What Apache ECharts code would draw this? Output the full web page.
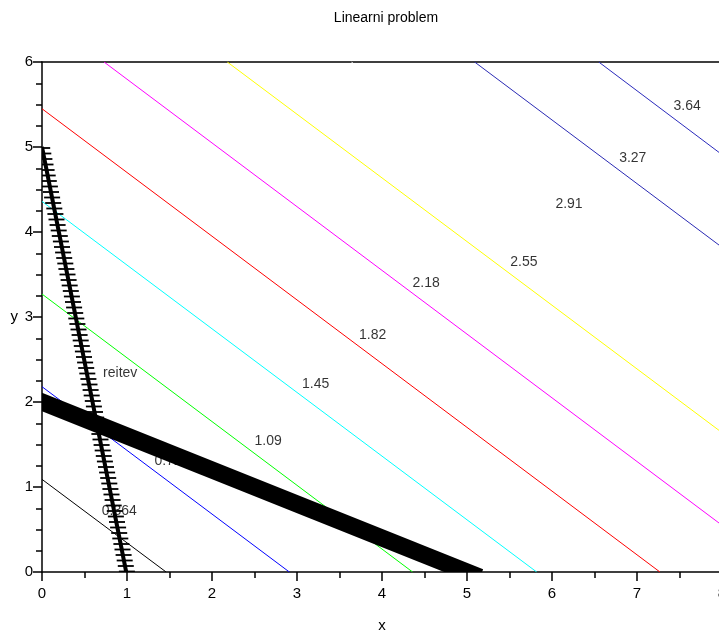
<!DOCTYPE html>
<html>
<head>
<meta charset="utf-8">
<script src="https://cdn.jsdelivr.net/npm/echarts@6/dist/echarts.min.js"></script>
<style>
html,body{margin:0;padding:0;background:#fff;}
#main{width:719px;height:631px;}
</style>
</head>
<body>
<div id="main"></div>
<script>
// contour levels of the objective, with colours and end points
var levels = ['0.364', '0.728', '1.09', '1.45', '1.82', '2.18', '2.55', '2.91', '3.27', '3.64'];
var levelColors = ['#000000', '#0000ff', '#00ff00', '#00ffff', '#ff0000', '#ff00ff', '#ffff00', '#ffffff', '#2a2ab4', '#2a2abc'];
var contourStart = [[0, 1.09], [0, 2.18], [0, 3.27], [0, 4.36], [0, 5.45], [0.73, 6], [2.18, 6], [3.64, 6], [5.09, 6], [6.55, 6]];
var contourEnd = [[1.46, 0], [2.91, 0], [4.36, 0], [5.82, 0], [7.27, 0], [8, 0.55], [8, 1.64], [8, 2.73], [8, 3.82], [8, 4.91]];
var labelX = [0.91, 1.53, 2.66, 3.22, 3.89, 4.52, 5.67, 6.20, 6.95, 7.59];
var labelY = [0.72, 1.31, 1.54, 2.21, 2.79, 3.40, 3.65, 4.33, 4.87, 5.48];

// constraints
var omejitev1 = [0, 2, 5, 0];
var omejitev2 = [0, 5, 1, 0];
var resitev = [0.92, 2.34, 'reitev'];

var xTicks = [0, 8, 1];
var yTicks = [0, 6, 1];

var font = 'Liberation Sans, Arial, sans-serif';

var series = [];
for (var i = 0; i < levels.length; i++) {
	series.push({
		type: 'line',
		data: [contourStart[i], contourEnd[i]],
		showSymbol: false,
		silent: true,
		z: 2,
		lineStyle: {color: levelColors[i], width: 1}
	});
}

var labelData = [];
for (var i = 0; i < levels.length; i++) {
	labelData.push([labelX[i], labelY[i], levels[i]]);
}
labelData.push(resitev);

series.push({
	type: 'scatter',
	data: labelData,
	symbolSize: 0,
	silent: true,
	z: 3,
	label: {
		show: true,
		position: 'inside',
		color: '#000',
		fontSize: 14,
		fontFamily: font,
		formatter: function(p) { return p.data[2]; }
	}
});

// thick line, drawn a bit past its ends and clipped by the grid
series.push({
	type: 'custom',
	clip: true,
	silent: true,
	z: 4,
	encode: {x: [0, 2], y: [1, 3]},
	data: [omejitev1],
	renderItem: function(params, api) {
		var a = api.coord([api.value(0), api.value(1)]);
		var b = api.coord([api.value(2), api.value(3)]);
		var dx = b[0] - a[0], dy = b[1] - a[1];
		var len = Math.sqrt(dx * dx + dy * dy);
		var ext = 14;
		return {
			type: 'line',
			shape: {
				x1: a[0] - dx / len * ext, y1: a[1] - dy / len * ext,
				x2: b[0] + dx / len * ext, y2: b[1] + dy / len * ext
			},
			style: {stroke: '#000', lineWidth: 17, lineCap: 'butt'}
		};
	}
});

// hatched line
series.push({
	type: 'custom',
	clip: true,
	silent: true,
	z: 5,
	encode: {x: [0, 2], y: [1, 3]},
	data: [omejitev2],
	renderItem: function(params, api) {
		var a = api.coord([api.value(0), api.value(1)]);
		var b = api.coord([api.value(2), api.value(3)]);
		var children = [{
			type: 'line',
			shape: {x1: a[0], y1: a[1], x2: b[0], y2: b[1] + 4},
			style: {stroke: '#000', lineWidth: 4}
		}];
		var step = 5.5;
		for (var y = a[1] + 1; y <= b[1] + 2; y += step) {
			var x = a[0] + (b[0] - a[0]) * (y - a[1]) / (b[1] - a[1]);
			children.push({
				type: 'line',
				shape: {x1: x - 8, y1: y, x2: x + 8, y2: y},
				style: {stroke: '#000', lineWidth: 1.8}
			});
		}
		return {type: 'group', children: children};
	}
});

var myChart = echarts.init(document.getElementById('main'));
var option = {
	backgroundColor: '#fff',
	animation: false,
	title: {
		text: 'Linearni problem',
		left: 381,
		top: 6,
		textAlign: 'center',
		textStyle: {fontSize: 14, fontWeight: 'normal', color: '#000', fontFamily: font}
	},
	grid: {left: 42, top: 62, width: 680, height: 510, containLabel: false, outerBoundsMode: 'none'},
	xAxis: [{
		type: 'value',
		min: xTicks[0], max: xTicks[1], interval: xTicks[2],
		position: 'bottom',
		name: 'x',
		nameLocation: 'middle',
		nameGap: 46,
		nameTextStyle: {color: '#000', fontSize: 15, fontFamily: font},
		axisLine: {show: true, onZero: false, lineStyle: {color: '#000', width: 1.5}},
		axisTick: {show: true, inside: false, length: 9, lineStyle: {color: '#000', width: 1.5}},
		minorTick: {show: true, splitNumber: 2, length: 6, lineStyle: {color: '#000', width: 1.5}},
		splitLine: {show: false},
		axisLabel: {color: '#000', fontSize: 15, margin: 14, fontFamily: font}
	}, {
		type: 'value',
		min: xTicks[0], max: xTicks[1],
		position: 'top',
		axisLine: {show: true, onZero: false, lineStyle: {color: '#000', width: 1.5}},
		axisTick: {show: false},
		axisLabel: {show: false},
		splitLine: {show: false}
	}],
	yAxis: {
		type: 'value',
		min: yTicks[0], max: yTicks[1], interval: yTicks[2],
		name: 'y',
		nameLocation: 'middle',
		nameRotate: 0,
		nameGap: 24,
		nameTextStyle: {color: '#000', fontSize: 15, fontFamily: font, padding: [0, 0, 16, 0]},
		axisLine: {show: true, onZero: false, lineStyle: {color: '#000', width: 1.5}},
		axisTick: {show: true, inside: false, length: 9, lineStyle: {color: '#000', width: 1.5}},
		minorTick: {show: true, splitNumber: 4, length: 6, lineStyle: {color: '#000', width: 1.5}},
		splitLine: {show: false},
		axisLabel: {color: '#000', fontSize: 15, margin: 9, fontFamily: font}
	},
	series: series
};
myChart.setOption(option);
</script>
</body>
</html>
